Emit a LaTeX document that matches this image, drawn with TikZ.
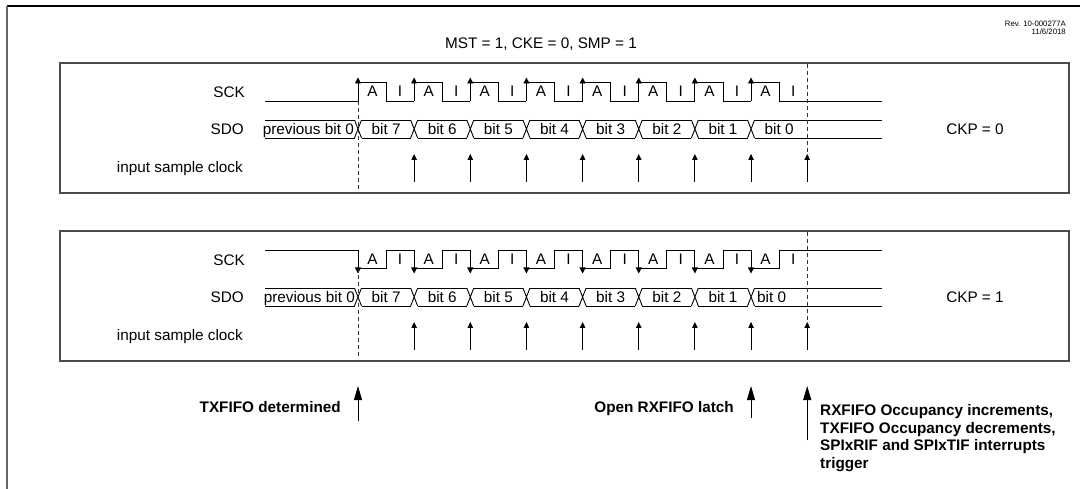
\documentclass[tikz,border=0pt]{standalone}
\usepackage{fontspec}
\setmainfont{Liberation Sans}
\usetikzlibrary{arrows.meta}
\begin{document}
\begin{tikzpicture}[x=1pt,y=-1pt,
  lbl/.style={font=\fontsize{15.3}{18}\selectfont, inner sep=0pt},
  blbl/.style={font=\fontsize{15.3}{18}\selectfont\bfseries, inner sep=0pt},
  small/.style={font=\fontsize{7.8}{9}\selectfont, inner sep=0pt},
  wave/.style={line width=0.9pt, black},
  panel/.style={draw=black!70, line width=1.2pt},
  vdashed/.style={dash pattern=on 4pt off 3pt, line width=0.8pt, black!80},
  edgearrow/.style={wave, -{Triangle[width=6pt,length=6pt]}},
  samplearrow/.style={wave, -{Triangle[width=5.5pt,length=6pt]}},
  bigarrow/.style={line width=1pt, black, -{Triangle[width=8pt,length=14pt]}}]
\useasboundingbox (0,0) rectangle (1080,489);
% outer frame
\draw[black, line width=1.5pt] (7,6) -- (1080,6);
\draw[black!60, line width=2pt] (7,6) -- (7,489);
% header
\node[small, anchor=base east] (rev) at (1066,26.8) {Rev. 10-000277A};
\node[small, anchor=base east] (date) at (1066,34.8) {11/6/2018};
\node[lbl, anchor=base] (title) at (541,48.5) {MST = 1, CKE = 0, SMP = 1};
% panels
\draw[panel] (60,63) rectangle (1069,193);
\draw[panel] (60,231) rectangle (1069,361);
% ---------- panel 1 (CKP = 0) ----------
\node[lbl, anchor=base east] (sck1) at (245,97.5) {SCK};
\node[lbl, anchor=base east] (sdo1) at (244,134.5) {SDO};
\node[lbl, anchor=base east] (isc1) at (243,172.5) {input sample clock};
\node[lbl, anchor=base] (ckp0) at (975,134.5) {CKP = 0};
\draw[wave] (265,101) -- (358,101);
\foreach \k in {0,...,7} {
  \pgfmathsetmacro\xa{358+56.15*\k}
  \pgfmathsetmacro\xb{\xa+28.07}
  \pgfmathsetmacro\xc{\xa+56.15}
  \draw[wave] (\xa,101) -- (\xa,82) -- (\xb,82) -- (\xb,101) -- (\xc,101);
  \draw[edgearrow] (\xa,101) -- (\xa,77.5);
  \node[lbl, anchor=base] at (\xa+14.5,97) {A};
  \node[lbl, anchor=base] at (\xb+14,97) {I};
}
\draw[wave] (779,101) -- (882,101);
% SDO bus panel 1
\draw[wave] (265,120) -- (354.5,120) (265,138) -- (354.5,138);
\foreach \k in {0,...,7} {
  \pgfmathsetmacro\xa{358+56.15*\k}
  \pgfmathsetmacro\xe{\xa+56.15-3.5}
  \draw[wave] (\xa-3.5,120) -- (\xa+3.5,138) (\xa-3.5,138) -- (\xa+3.5,120);
}
\foreach \k in {0,...,6} {
  \pgfmathsetmacro\xa{358+56.15*\k}
  \draw[wave] (\xa+3.5,120) -- (\xa+52.65,120) (\xa+3.5,138) -- (\xa+52.65,138);
}
\draw[wave] (754.5,120) -- (882,120) (754.5,138) -- (882,138);
\node[lbl, anchor=base east] (pb1) at (354,134.5) {previous bit 0};
\foreach \k/\b in {0/7,1/6,2/5,3/4,4/3,5/2,6/1,7/0} {
  \pgfmathsetmacro\xm{358+56.15*\k+28.07}
  \node[lbl, anchor=base] at (\xm,134.5) {bit \b};
}
% sample arrows panel 1
\foreach \k in {1,...,8} {
  \pgfmathsetmacro\xa{358+56.15*\k}
  \draw[samplearrow] (\xa,182) -- (\xa,154);
}
\draw[vdashed] (358,101) -- (358,190);
\draw[vdashed] (807.2,64) -- (807.2,154);
% ---------- panel 2 (CKP = 1) ----------
\node[lbl, anchor=base east] (sck2) at (245,265.5) {SCK};
\node[lbl, anchor=base east] (sdo2) at (244,302.5) {SDO};
\node[lbl, anchor=base east] (isc2) at (243,340.5) {input sample clock};
\node[lbl, anchor=base] (ckp1) at (975,302.5) {CKP = 1};
\draw[wave] (265,250) -- (358,250);
\foreach \k in {0,...,7} {
  \pgfmathsetmacro\xa{358+56.15*\k}
  \pgfmathsetmacro\xb{\xa+28.07}
  \pgfmathsetmacro\xc{\xa+56.15}
  \draw[wave] (\xa,250) -- (\xa,268) -- (\xb,268) -- (\xb,250) -- (\xc,250);
  \draw[edgearrow] (\xa,250) -- (\xa,273.5);
  \node[lbl, anchor=base] at (\xa+14.5,265) {A};
  \node[lbl, anchor=base] at (\xb+14,265) {I};
}
\draw[wave] (779,250) -- (882,250);
% SDO bus panel 2
\draw[wave] (265,288) -- (354.5,288) (265,306) -- (354.5,306);
\foreach \k in {0,...,7} {
  \pgfmathsetmacro\xa{358+56.15*\k}
  \draw[wave] (\xa-3.5,288) -- (\xa+3.5,306) (\xa-3.5,306) -- (\xa+3.5,288);
}
\foreach \k in {0,...,6} {
  \pgfmathsetmacro\xa{358+56.15*\k}
  \draw[wave] (\xa+3.5,288) -- (\xa+52.65,288) (\xa+3.5,306) -- (\xa+52.65,306);
}
\draw[wave] (754.5,288) -- (882,288) (754.5,306) -- (882,306);
\node[lbl, anchor=base east] (pb2) at (355,302.5) {previous bit 0};
\foreach \k/\b in {0/7,1/6,2/5,3/4,4/3,5/2,6/1} {
  \pgfmathsetmacro\xm{358+56.15*\k+28.07}
  \node[lbl, anchor=base] at (\xm,302.5) {bit \b};
}
\node[lbl, anchor=base west] (b0two) at (757,302.5) {bit 0};
\foreach \k in {1,...,8} {
  \pgfmathsetmacro\xa{358+56.15*\k}
  \draw[samplearrow] (\xa,350) -- (\xa,322);
}
\draw[vdashed] (358,268) -- (358,358);
\draw[vdashed] (807.2,232) -- (807.2,322);
% ---------- bottom annotations ----------
\coordinate (tA) at (358,421);
\coordinate (tB) at (358,386);
\coordinate (oA) at (751,418);
\coordinate (oB) at (751,386);
\coordinate (rA) at (807.2,440);
\coordinate (rB) at (807.2,386);
\draw[bigarrow] (tA) -- (tB);
\draw[bigarrow] (oA) -- (oB);
\draw[bigarrow] (rA) -- (rB);
\node[blbl, anchor=base east] (txd) at (341,412.5) {TXFIFO determined};
\node[blbl, anchor=base east] (orl) at (734,412.5) {Open RXFIFO latch};
\node[blbl, anchor=base west] (r1) at (820,415.5) {RXFIFO Occupancy increments,};
\node[blbl, anchor=base west] (r2) at (820,433) {TXFIFO Occupancy decrements,};
\node[blbl, anchor=base west] (r3) at (820,450.5) {SPIxRIF and SPIxTIF interrupts};
\node[blbl, anchor=base west] (r4) at (820,468.5) {trigger};
\end{tikzpicture}
\end{document}
